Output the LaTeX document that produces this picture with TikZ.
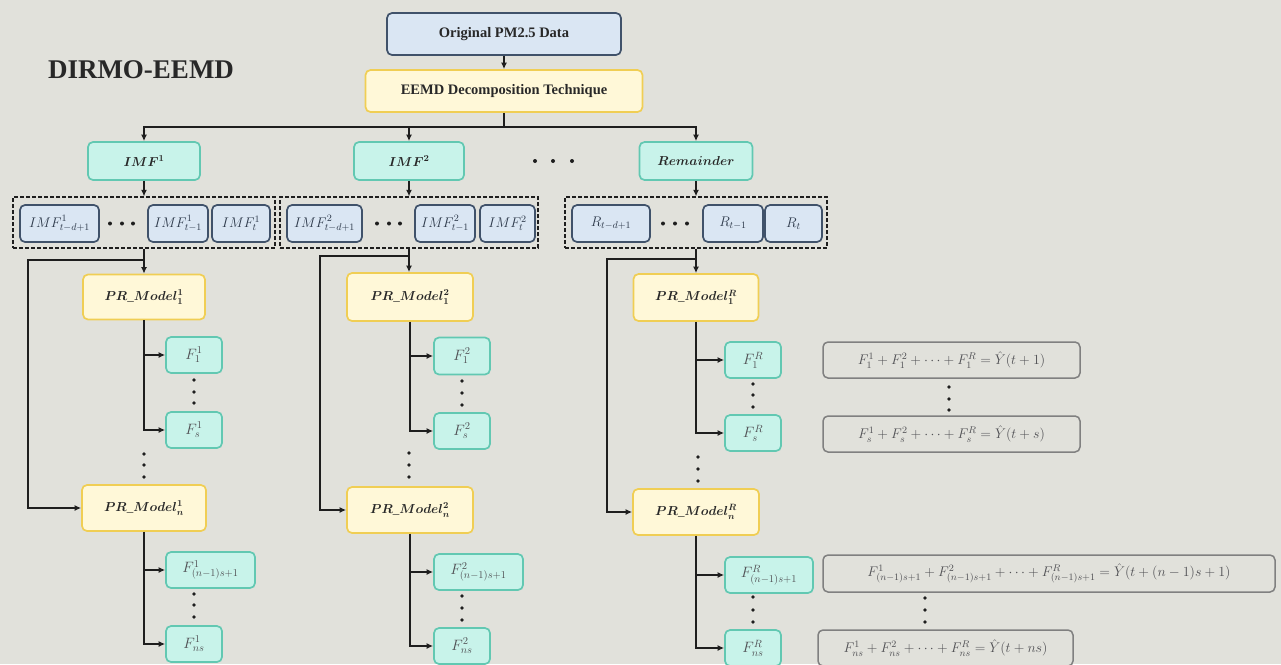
\RequirePackage{fix-cm}
\documentclass[tikz,border=0pt]{standalone}
\usepackage{fontspec}
\setmainfont{Liberation Serif}
\usetikzlibrary{arrows.meta}

\definecolor{bg}{RGB}{225,225,219}
\definecolor{cyanfill}{RGB}{200,243,234}
\definecolor{cyanline}{RGB}{98,200,178}
\definecolor{yelfill}{RGB}{255,248,216}
\definecolor{yelline}{RGB}{240,206,84}
\definecolor{bluefill}{RGB}{218,230,243}
\definecolor{blueline}{RGB}{64,82,106}
\definecolor{grayline}{RGB}{128,128,128}
\definecolor{inktext}{RGB}{40,40,40}
\definecolor{softtext}{RGB}{80,80,84}
\definecolor{wire}{RGB}{30,30,30}

\tikzset{
  box/.style={rounded corners=5pt, line width=1.7pt, inner sep=2pt, align=center},
  cyanbox/.style={box, draw=cyanline, fill=cyanfill, text=inktext},
  yelbox/.style={box, draw=yelline, fill=yelfill, text=inktext},
  bluebox/.style={box, draw=blueline, fill=bluefill, text=inktext},
  eqbox/.style={box, draw=grayline, fill=bg, text=softtext, line width=1.5pt,
    font=\fontsize{14}{16}\selectfont},
  groupbox/.style={draw=wire, dashed, dash pattern=on 4pt off 2pt, line width=1.3pt},
  hdr/.style={cyanbox, minimum width=112pt, minimum height=38pt,
    font=\fontsize{13}{15}\selectfont\boldmath},
  subbox/.style={bluebox, minimum height=37pt, text=blueline!70!black,
    font=\fontsize{14}{16}\selectfont},
  model/.style={yelbox, minimum width=124pt, minimum height=46pt,
    font=\fontsize{13}{15}\selectfont\boldmath},
  fbox/.style={cyanbox, minimum width=56pt, minimum height=36pt, text=softtext,
    font=\fontsize{15}{17}\selectfont},
  wirepath/.style={draw=wire, line width=1.3pt},
  arr/.style={wirepath, -{Latex[length=6.5pt,width=6pt]}},
  dot/.style={fill=wire},
}

\begin{document}
\begin{tikzpicture}[x=1pt, y=-1pt]
\fill[bg] (0,0) rectangle (1281,664);
\useasboundingbox (0,0) rectangle (1281,664);

% title
\node[font=\bfseries\fontsize{27}{30}\selectfont, text=inktext] (title) at (141,70) {DIRMO-EEMD};

% data and decomposition
\node[bluebox, minimum width=234pt, minimum height=42pt,
  font=\bfseries\fontsize{14.5}{16}\selectfont] (orig) at (504,34) {Original PM2.5 Data};
\node[yelbox, minimum width=277pt, minimum height=42pt,
  font=\bfseries\fontsize{14.5}{16}\selectfont] (eemd) at (504,91) {EEMD Decomposition Technique};
\draw[arr] (orig.south) -- (eemd.north);

% decomposed components
\node[hdr] (imf1) at (144,161) {$IMF^1$};
\node[hdr, minimum width=110pt] (imf2) at (409,161) {$IMF^2$};
\node[hdr, minimum width=113pt] (rem) at (696,161) {$Remainder$};
\foreach \x in {535,553,572} \fill[dot] (\x,161) circle (2pt);

\coordinate (split) at (504,127);
\draw[wirepath] (eemd.south) -- (split);
\draw[arr] (split) -| (imf1.north);
\draw[arr] (split) -| (rem.north);
\draw[arr] (imf2.north |- split) -- (imf2.north);

% lagged windows
\node[groupbox, minimum width=262pt, minimum height=51pt] (g1) at (144,222.5) {};
\node[groupbox, minimum width=258pt, minimum height=51pt] (g2) at (409,222.5) {};
\node[groupbox, minimum width=262pt, minimum height=51pt] (g3) at (696,222.5) {};
\draw[arr] (imf1.south) -- (g1.north);
\draw[arr] (imf2.south) -- (g2.north);
\draw[arr] (rem.south) -- (g3.north);

\node[subbox, minimum width=79pt] (w1a) at (59.5,223.5) {$IMF^1_{t-d+1}$};
\node[subbox, minimum width=60pt] (w1b) at (178,223.5) {$IMF^1_{t-1}$};
\node[subbox, minimum width=58pt] (w1c) at (241,223.5) {$IMF^1_{t}$};
\foreach \x in {110,122,133} \fill[dot] (\x,223.5) circle (2pt);

\node[subbox, minimum width=75pt] (w2a) at (324.5,223.5) {$IMF^2_{t-d+1}$};
\node[subbox, minimum width=60pt] (w2b) at (445,223.5) {$IMF^2_{t-1}$};
\node[subbox, minimum width=55pt] (w2c) at (507.5,223.5) {$IMF^2_{t}$};
\foreach \x in {377,389,400} \fill[dot] (\x,223.5) circle (2pt);

\node[subbox, minimum width=78pt] (w3a) at (611,223.5) {$R_{t-d+1}$};
\node[subbox, minimum width=60pt] (w3b) at (733,223.5) {$R_{t-1}$};
\node[subbox, minimum width=57pt] (w3c) at (793.5,223.5) {$R_{t}$};
\foreach \x in {663,675,687} \fill[dot] (\x,223.5) circle (2pt);

% ---------- branch 1 ----------
\node[model, minimum width=122pt, minimum height=45pt] (p1a) at (144,297) {$PR\_Model^1_1$};
\node[fbox] (f1a) at (194,355) {$F^1_1$};
\node[fbox] (f1b) at (194,430) {$F^1_s$};
\node[model] (p1n) at (144,508) {$PR\_Model^1_n$};
\node[fbox, minimum width=89pt] (f1c) at (210.5,570) {$F^1_{(n-1)s+1}$};
\node[fbox] (f1d) at (194,644) {$F^1_{ns}$};
\coordinate (j1) at (144,260);
\coordinate (c1) at (28,260);
\draw[wirepath] (g1.south) -- (j1);
\draw[arr] (j1) -- (p1a.north);
\draw[arr] (j1) -- (c1) |- (p1n.west);
\draw[arr] (p1a.south) |- (f1a.west);
\draw[arr] (p1a.south) |- (f1b.west);
\draw[arr] (p1n.south) |- (f1c.west);
\draw[arr] (p1n.south) |- (f1d.west);
\foreach \y in {380,392,403} \fill[dot] (194,\y) circle (1.9pt);
\foreach \y in {454,465,477} \fill[dot] (144,\y) circle (1.9pt);
\foreach \y in {594,605,617} \fill[dot] (194,\y) circle (1.9pt);

% ---------- branch 2 ----------
\node[model, minimum width=126pt, minimum height=48pt] (p2a) at (410,297) {$PR\_Model^2_1$};
\node[fbox, minimum height=37pt] (f2a) at (462,356) {$F^2_1$};
\node[fbox] (f2b) at (462,431) {$F^2_s$};
\node[model, minimum width=126pt] (p2n) at (410,510) {$PR\_Model^2_n$};
\node[fbox, minimum width=89pt] (f2c) at (478.5,572) {$F^2_{(n-1)s+1}$};
\node[fbox] (f2d) at (462,646) {$F^2_{ns}$};
\coordinate (j2) at (409,256);
\coordinate (c2) at (320,256);
\draw[wirepath] (g2.south) -- (j2);
\draw[arr] (j2) -- (j2 |- p2a.north);
\draw[arr] (j2) -- (c2) |- (p2n.west);
\draw[arr] (p2a.south) |- (f2a.west);
\draw[arr] (p2a.south) |- (f2b.west);
\draw[arr] (p2n.south) |- (f2c.west);
\draw[arr] (p2n.south) |- (f2d.west);
\foreach \y in {381,393,405} \fill[dot] (462,\y) circle (1.9pt);
\foreach \y in {453,465,477} \fill[dot] (409,\y) circle (1.9pt);
\foreach \y in {596,608,620} \fill[dot] (462,\y) circle (1.9pt);

% ---------- branch R ----------
\node[model, minimum width=125pt, minimum height=47pt] (p3a) at (696,297.5) {$PR\_Model^R_1$};
\node[fbox] (f3a) at (753,360) {$F^R_1$};
\node[fbox] (f3b) at (753,433) {$F^R_s$};
\node[model, minimum width=126pt] (p3n) at (696,512) {$PR\_Model^R_n$};
\node[fbox, minimum width=88pt] (f3c) at (769,575) {$F^R_{(n-1)s+1}$};
\node[fbox] (f3d) at (753,648) {$F^R_{ns}$};
\coordinate (j3) at (696,259);
\coordinate (c3) at (607,259);
\draw[wirepath] (g3.south) -- (j3);
\draw[arr] (j3) -- (p3a.north);
\draw[arr] (j3) -- (c3) |- (p3n.west);
\draw[arr] (p3a.south) |- (f3a.west);
\draw[arr] (p3a.south) |- (f3b.west);
\draw[arr] (p3n.south) |- (f3c.west);
\draw[arr] (p3n.south) |- (f3d.west);
\foreach \y in {384,395,407} \fill[dot] (753,\y) circle (1.9pt);
\foreach \y in {457,469,481} \fill[dot] (698,\y) circle (1.9pt);
\foreach \y in {597,610,622} \fill[dot] (753,\y) circle (1.9pt);

% ---------- aggregated forecasts ----------
\node[eqbox, minimum width=257pt, minimum height=36pt] (e1) at (951.5,360)
  {$F^1_1+F^2_1+\cdots+F^R_1=\hat{Y}(t+1)$};
\node[eqbox, minimum width=257pt, minimum height=36pt] (e2) at (951.5,434)
  {$F^1_s+F^2_s+\cdots+F^R_s=\hat{Y}(t+s)$};
\node[eqbox, minimum width=452pt, minimum height=37pt] (e3) at (1049,573.5)
  {$F^1_{(n-1)s+1}+F^2_{(n-1)s+1}+\cdots+F^R_{(n-1)s+1}=\hat{Y}(t+(n-1)s+1)$};
\node[eqbox, minimum width=255pt, minimum height=36pt] (e4) at (945.5,648)
  {$F^1_{ns}+F^2_{ns}+\cdots+F^R_{ns}=\hat{Y}(t+ns)$};
\foreach \y in {387,399,410} \fill[dot] (949,\y) circle (1.9pt);
\foreach \y in {598,610,622} \fill[dot] (925,\y) circle (1.9pt);
\end{tikzpicture}
\end{document}
